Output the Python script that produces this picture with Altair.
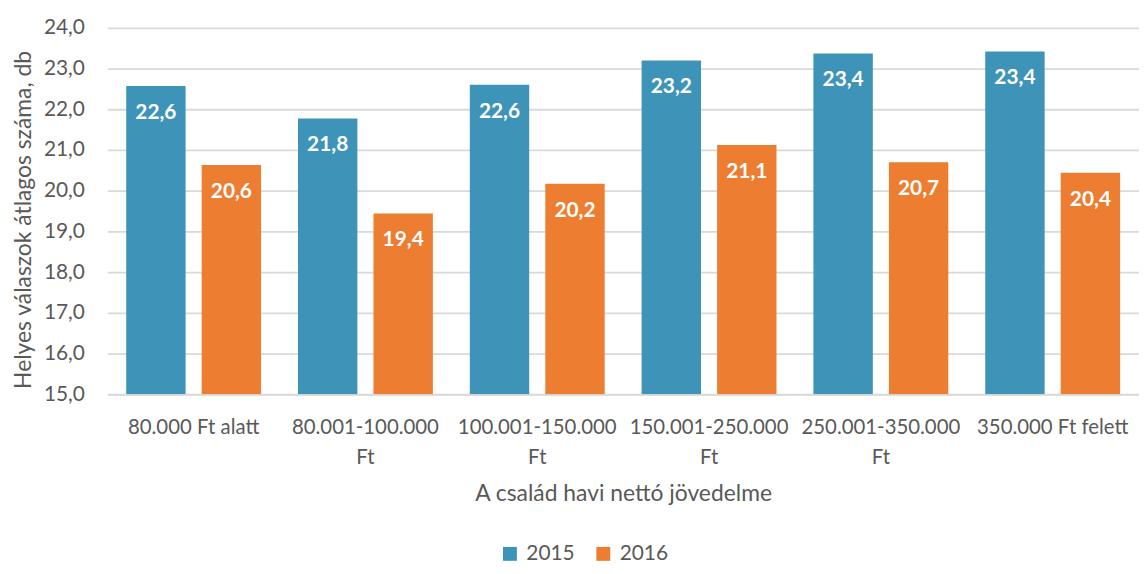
import altair as alt
import pandas as pd

categories = ["80.000 Ft alatt", "80.001-100.000 Ft", "100.001-150.000 Ft",
              "150.001-250.000 Ft", "250.001-350.000 Ft", "350.000 Ft felett"]
years = ["2015", "2016"]
values_2015 = [22.57, 21.77, 22.6, 23.2, 23.37, 23.42]
values_2016 = [20.63, 19.44, 20.17, 21.12, 20.7, 20.44]
y_ticks = [15, 16, 17, 18, 19, 20, 21, 22, 23, 24]
colors = ["#3E93B9", "#ED7D31"]

rows = []
for c, v in zip(categories, values_2015):
    rows.append({"cat": c, "year": "2015", "value": v})
for c, v in zip(categories, values_2016):
    rows.append({"cat": c, "year": "2016", "value": v})
df = pd.DataFrame(rows)

FONT = "Lato"
GRAY = "#595959"

x = alt.X("cat:N", sort=categories,
          scale=alt.Scale(paddingInner=0.215, paddingOuter=0.11),
          axis=alt.Axis(title="A család havi nettó jövedelme", labelAngle=0,
                        labelExpr="indexof(datum.label, '-') > 0 ? split(datum.label, ' ') : datum.label",
                        labelLineHeight=30, labelFontSize=20.5, labelColor=GRAY,
                        labelFont=FONT, labelPadding=24, labelBaseline="top",
                        titleFont=FONT, titleFontSize=23, titleFontWeight="normal",
                        titleColor=GRAY, titleY=100, titleBaseline="middle",
                        ticks=False, domainColor="#D9D9D9", domainWidth=1.5,
                        labelLimit=0))
y = alt.Y("value:Q",
          scale=alt.Scale(domain=[15, 24], nice=False, zero=False),
          axis=alt.Axis(title="Helyes válaszok átlagos száma, db",
                        values=y_ticks,
                        labelExpr="replace(format(datum.value, '.1f'), '.', ',')",
                        labelFontSize=21, labelColor=GRAY, labelFont=FONT, labelPadding=23,
                        titleFont=FONT, titleFontSize=23, titleFontWeight="normal",
                        titleColor=GRAY, titleX=-84, titleY=193,
                        titleBaseline="middle", titleAlign="center",
                        ticks=False, domain=False, gridColor="#D9D9D9", gridWidth=1.8))
xo = alt.XOffset("year:N", sort=years,
                 scale=alt.Scale(paddingInner=0.213, paddingOuter=0))

bars = alt.Chart(df).mark_bar(clip=True).encode(
    x=x, y=y, y2=alt.datum(15), xOffset=xo,
    color=alt.Color("year:N", sort=years,
                    scale=alt.Scale(domain=years, range=colors),
                    legend=alt.Legend(title=None, orient="none", direction="horizontal",
                                      legendX=395, legendY=519, padding=0,
                                      symbolType="square", symbolSize=196,
                                      symbolOffset=0, labelOffset=6,
                                      labelFontSize=21, labelFont=FONT, labelColor=GRAY,
                                      columnPadding=18, symbolStrokeWidth=0)),
)

labels = alt.Chart(df).mark_text(
    color="white", fontWeight="bold", fontSize=21, font=FONT,
    baseline="middle", dy=27,
).encode(
    x=alt.X("cat:N", sort=categories), y=alt.Y("value:Q"), xOffset=xo,
    text=alt.Text("label:N"),
).transform_calculate(
    label="replace(format(datum.value, '.1f'), '.', ',')"
)

chart = alt.layer(bars, labels).properties(
    width=1039, height=369,
    autosize=alt.AutoSizeParams(type="none"),
    padding={"left": 100, "top": 18, "right": 0, "bottom": 171},
).configure_view(stroke=None)

chart.save("out.html", embed_options={"renderer": "svg", "actions": False})
